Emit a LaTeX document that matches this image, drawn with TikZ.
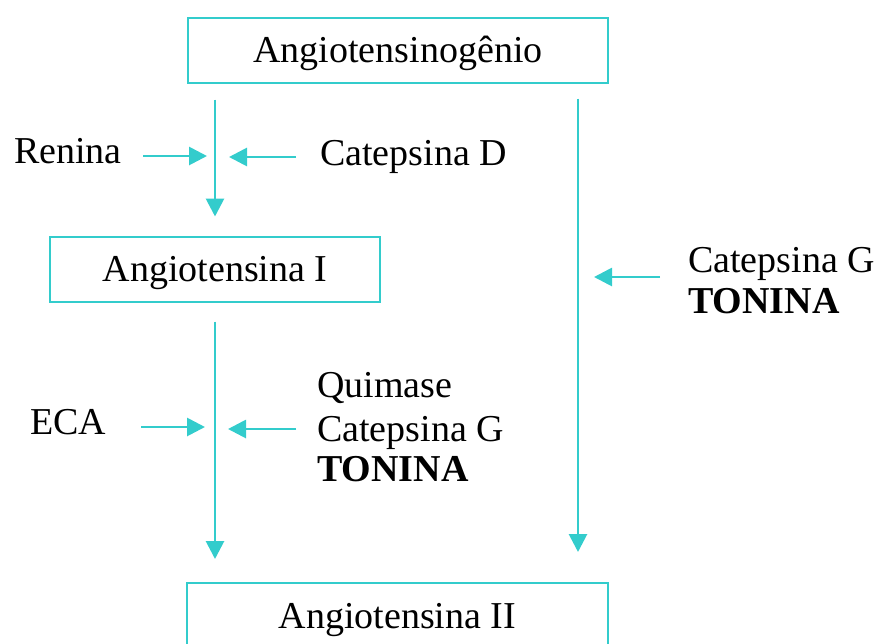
\documentclass[tikz,border=0pt]{standalone}
\usepackage{fontspec}
\setmainfont{Liberation Serif}
\usetikzlibrary{positioning,arrows.meta}
\definecolor{tealline}{RGB}{51,204,204}

\begin{document}
\begin{tikzpicture}[x=1pt, y=-1pt,
    every node/.style={font=\fontsize{38}{42}\selectfont},
    stagebox/.style={draw=tealline, line width=2pt, inner sep=0pt, minimum height=65pt,
        text height=25pt, text depth=0pt},
    lbl/.style={inner sep=0pt, anchor=base west},
    arrow/.style={-{Triangle[length=18pt,width=18pt]}, line width=2.8pt, tealline}
]
    \useasboundingbox (0,0) rectangle (875,643);
    \clip (0,0) rectangle (875,643);

    % the three stages
    \node[stagebox, minimum width=420pt] (ang) at (398,50) {Angiotensinogênio};
    \node[stagebox, minimum width=330pt] (angI) at (215,269) {Angiotensina I};
    \node[stagebox, minimum width=421pt] (angII) at (397.5,615.5) {Angiotensina II};

    % enzymes
    \node[lbl] (renina) at (14,163) {Renina};
    \node[lbl] (catD) at (320,165) {Catepsina D};
    \node[lbl] (eca) at (30,434) {ECA};
    \node[lbl] (quimase) at (317,397) {Quimase};
    \node[lbl] (catG) at (317,441) {Catepsina G};
    \node[lbl] (tonina) at (317,481) {\textbf{TONINA}};
    \node[lbl] (catGr) at (688,272) {Catepsina G};
    \node[lbl] (toninar) at (688,313) {\textbf{TONINA}};

    \coordinate (rline) at (578,300);
    \coordinate (tipRen) at (207,156);
    \coordinate (tipCatD) at (229,157);
    \coordinate (tipEca) at (205,427);
    \coordinate (tipCatG) at (228,429);
    \coordinate (tipRight) at (594,277);

    % main paths
    \draw[arrow, shorten <=16pt, shorten >=19pt] (ang.south -| angI.north) -- (angI.north);
    \draw[arrow, shorten <=19pt, shorten >=23pt] (angI.south) -- (angII.north -| angI.south);
    \draw[arrow, shorten <=15pt, shorten >=30pt] (ang.south -| rline) -- (angII.north -| rline);

    % enzyme arrows
    \draw[arrow, shorten <=21pt] (renina.east |- tipRen) -- (tipRen);
    \draw[arrow, shorten <=24pt] (catD.west |- tipCatD) -- (tipCatD);
    \draw[arrow, shorten <=35pt] (eca.east |- tipEca) -- (tipEca);
    \draw[arrow, shorten <=21pt] (catG.west |- tipCatG) -- (tipCatG);
    \draw[arrow, shorten <=28pt] (catGr.west |- tipRight) -- (tipRight);
\end{tikzpicture}
\end{document}
